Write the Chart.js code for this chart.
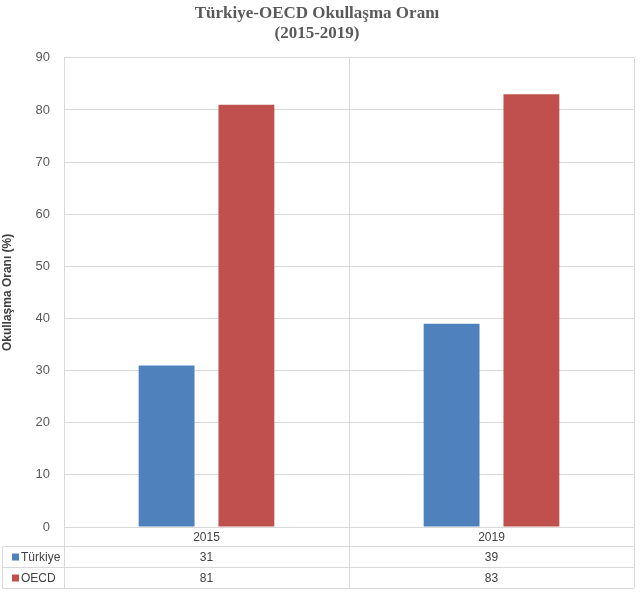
<!DOCTYPE html>
<html>
<head>
<meta charset="utf-8">
<script src="https://cdn.jsdelivr.net/npm/chart.js@4/dist/chart.umd.min.js"></script>
<style>
  html, body { margin: 0; padding: 0; background: #fff; }
  #wrap { width: 640px; height: 592px; }
</style>
</head>
<body>
<div id="wrap"><canvas id="chart"></canvas></div>
<script>
// Chart data
const years = ['2015', '2019'];
const seriesNames = ['Türkiye', 'OECD'];
const turkiyeValues = [31, 39];
const oecdValues = [81, 83];
const seriesColors = ['#4f81bd', '#c0504d'];

// Draws the data table under the plot (Excel style)
const dataTablePlugin = {
    id: 'dataTable',
    afterDraw(chart) {
        const ctx = chart.ctx;
        const area = chart.chartArea;
        const xScale = chart.scales.x;
        const rowTop = area.bottom;
        const rowH = [19, 21, 21];
        const rows = [rowTop, rowTop + rowH[0], rowTop + rowH[0] + rowH[1], rowTop + rowH[0] + rowH[1] + rowH[2]];
        const tableLeft = 2;

        ctx.save();
        ctx.strokeStyle = '#d9d9d9';
        ctx.lineWidth = 1;

        // horizontal lines
        ctx.beginPath();
        ctx.moveTo(area.left, rows[0] + 0.5);
        ctx.lineTo(area.right, rows[0] + 0.5);
        for (let i = 1; i < rows.length; i++) {
            ctx.moveTo(tableLeft, Math.round(rows[i]) + 0.5);
            ctx.lineTo(area.right, Math.round(rows[i]) + 0.5);
        }
        // vertical lines
        const half = (xScale.getPixelForValue(1) - xScale.getPixelForValue(0)) / 2;
        const xs = [area.left, xScale.getPixelForValue(0) + half, area.right];
        xs.forEach(function(x) {
            ctx.moveTo(Math.round(x) + 0.5, rows[0]);
            ctx.lineTo(Math.round(x) + 0.5, rows[3]);
        });
        ctx.moveTo(tableLeft + 0.5, rows[1]);
        ctx.lineTo(tableLeft + 0.5, rows[3]);
        ctx.stroke();

        // text
        ctx.font = '12px "Liberation Sans", Arial, sans-serif';
        ctx.fillStyle = '#404040';
        ctx.textAlign = 'center';
        ctx.textBaseline = 'middle';
        years.forEach(function(year, i) {
            const x = xScale.getPixelForValue(i);
            ctx.fillText(year, x, (rows[0] + rows[1]) / 2 + 1);
        });

        const seriesValues = [turkiyeValues, oecdValues];
        seriesValues.forEach(function(values, s) {
            const yMid = (rows[s + 1] + rows[s + 2]) / 2 + 1;
            values.forEach(function(v, i) {
                ctx.textAlign = 'center';
                ctx.fillText(String(v), xScale.getPixelForValue(i), yMid);
            });
            // legend key
            ctx.fillStyle = seriesColors[s];
            ctx.fillRect(tableLeft + 10, yMid - 4, 7, 7);
            ctx.fillStyle = '#404040';
            ctx.textAlign = 'left';
            ctx.fillText(seriesNames[s], tableLeft + 19, yMid);
        });
        ctx.restore();
    }
};

const ctx = document.getElementById('chart').getContext('2d');
const chart = new Chart(ctx, {
    type: 'bar',
    data: {
        labels: years,
        datasets: [
            {
                label: seriesNames[0],
                data: turkiyeValues,
                backgroundColor: seriesColors[0],
                categoryPercentage: 0.56,
                barPercentage: 0.7
            },
            {
                label: seriesNames[1],
                data: oecdValues,
                backgroundColor: seriesColors[1],
                categoryPercentage: 0.56,
                barPercentage: 0.7
            }
        ]
    },
    options: {
        responsive: true,
        maintainAspectRatio: false,
        animation: false,
        layout: {
            padding: { left: 0, right: 6, top: 0, bottom: 0 }
        },
        plugins: {
            legend: { display: false },
            tooltip: { enabled: false },
            title: {
                display: true,
                text: ['Türkiye-OECD Okullaşma Oranı', '(2015-2019)'],
                color: '#595959',
                font: { family: '"Liberation Serif", "Times New Roman", serif', size: 17, weight: 'bold', lineHeight: 1.2 },
                padding: { top: 3, bottom: 14 }
            }
        },
        scales: {
            x: {
                grid: { display: true, offset: true, color: '#d9d9d9', drawTicks: false },
                border: { display: false },
                ticks: { display: false },
                afterFit: function(scale) { scale.height = 65; }
            },
            y: {
                min: 0,
                max: 90,
                ticks: {
                    stepSize: 10,
                    color: '#595959',
                    padding: 14,
                    font: { family: '"Liberation Sans", Arial, sans-serif', size: 13 }
                },
                grid: { color: '#d9d9d9', drawTicks: false },
                border: { display: false },
                title: {
                    display: true,
                    text: 'Okullaşma Oranı (%)',
                    color: '#404040',
                    font: { family: '"Liberation Sans", Arial, sans-serif', size: 12, weight: 'bold' },
                    padding: { top: 0, bottom: 4 }
                },
                afterFit: function(scale) { scale.width = 64; }
            }
        }
    },
    plugins: [dataTablePlugin]
});
</script>
</body>
</html>
